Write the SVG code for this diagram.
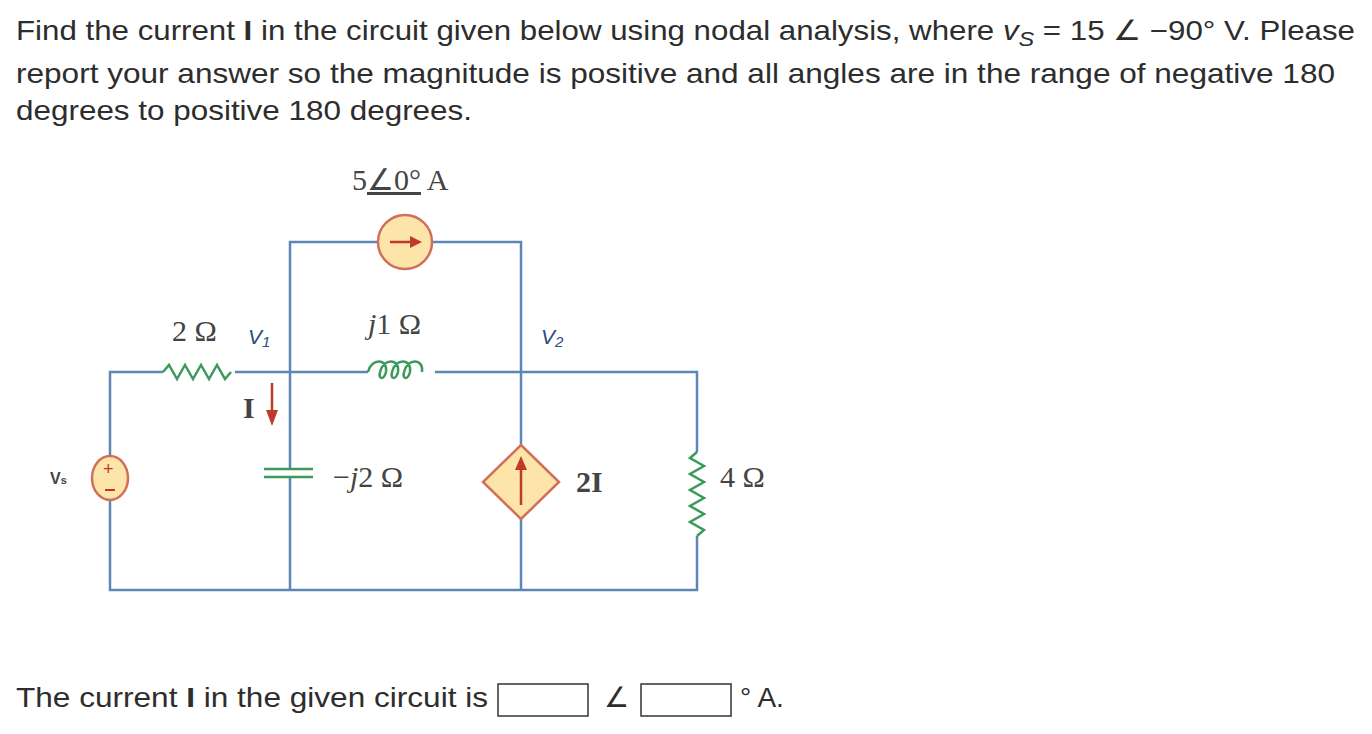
<svg xmlns="http://www.w3.org/2000/svg" width="1372" height="734" viewBox="0 0 1372 734">
<style>
.q{font-family:"Liberation Sans",Arial,sans-serif;font-size:28px;fill:#2d2d2d}
.s{font-family:"Liberation Serif","Times New Roman",serif;font-size:30px;fill:#444}
.w{stroke:#5b86b5;stroke-width:2.5;fill:none}
.g{stroke:#3a9a5a;stroke-width:2.5;fill:none}
.src{fill:#fde4a8;stroke:#d0705a;stroke-width:2.5}
.box{fill:#fff;stroke:#333;stroke-width:1.5}
</style>
<rect width="1372" height="734" fill="#fff"/>
<text class="q" x="16" y="40" textLength="1339" lengthAdjust="spacingAndGlyphs">Find the current <tspan font-weight="bold">I</tspan> in the circuit given below using nodal analysis, where <tspan font-style="italic">v<tspan font-size="21" dy="6">S</tspan></tspan><tspan dy="-6"> = 15 ∠ −90° V. Please</tspan></text>
<text class="q" x="16" y="83" textLength="1319" lengthAdjust="spacingAndGlyphs">report your answer so the magnitude is positive and all angles are in the range of negative 180</text>
<text class="q" x="16" y="120" textLength="456" lengthAdjust="spacingAndGlyphs">degrees to positive 180 degrees.</text>
<g id="connectors">
<path class="w" d="M110,456 V372 H163 M235,372 H368 M435,372 H697 V452 M697,536 V590 H110 V500"/>
<path class="w" d="M290,590 V477 M290,469 V242 H378 M432,242 H521 V445 M521,519 V590"/>
<line x1="272" y1="383" x2="272" y2="412" stroke="#c0392b" stroke-width="2.5"/>
<path d="M266,410 L278,410 L272,426Z" fill="#c0392b"/>
</g>
<g id="R2"><path class="g" d="M163,372 l6,-7 l8,14 l8,-14 l8,14 l8,-14 l8,14 l8,-14 l8,14 l6,-7"/><text class="s" x="172" y="341">2 Ω</text></g>
<g id="V1"><text x="248" y="344" font-family="Liberation Sans,sans-serif" font-size="21" font-style="italic" fill="#2d4a7a">V<tspan font-size="15" dy="3">1</tspan></text></g>
<g id="L"><path class="g" d="M368,372 c3,-14 20,-14 18,0 c-2,8 -8,8 -6,0 c3,-14 20,-14 18,0 c-2,8 -8,8 -6,0 c3,-14 20,-14 18,0 c-2,8 -8,8 -6,0 c3,-14 20,-14 18,0"/><text class="s" x="368" y="334"><tspan font-style="italic">j</tspan>1 Ω</text></g>
<g id="V2"><text x="541" y="344" font-family="Liberation Sans,sans-serif" font-size="21" font-style="italic" fill="#2d4a7a">V<tspan font-size="15" dy="3">2</tspan></text></g>
<g id="Isrc"><circle class="src" cx="405" cy="242" r="27"/><line x1="390" y1="242" x2="412" y2="242" stroke="#c0392b" stroke-width="2.5"/><path d="M410,236 L422,242 L410,248Z" fill="#c0392b"/><text class="s" x="352" y="190">5<tspan text-decoration="underline">∠0°</tspan> A</text></g>
<g id="Vs"><ellipse class="src" cx="110" cy="478" rx="18" ry="22"/><text x="103" y="475" font-family="Liberation Sans,sans-serif" font-size="18" fill="#c0392b">+</text><line x1="105" y1="490" x2="115" y2="490" stroke="#c0392b" stroke-width="2"/><text x="50" y="484" font-family="Liberation Sans,sans-serif" font-size="16" font-weight="bold" fill="#444">V<tspan font-size="11">s</tspan></text></g>
<g id="C"><line class="g" x1="264" y1="469" x2="313" y2="469"/><line class="g" x1="264" y1="477" x2="313" y2="477"/><text class="s" x="333" y="487">−<tspan font-style="italic">j</tspan>2 Ω</text></g>
<g id="I"><text class="s" x="243" y="418" font-weight="bold" fill="#333">I</text></g>
<g id="dep"><path class="src" d="M521,445 L559,482 L521,519 L483,482Z"/><line x1="521" y1="505" x2="521" y2="468" stroke="#c0392b" stroke-width="2.5"/><path d="M515,470 L521,456 L527,470Z" fill="#c0392b"/><text class="s" x="576" y="492" font-weight="bold" fill="#333">2I</text></g>
<g id="R4"><path class="g" d="M697,452 l-7,6 l14,8 l-14,8 l14,8 l-14,8 l14,8 l-14,8 l14,8 l-14,8 l14,8 l-7,6"/><text class="s" x="720" y="487">4 Ω</text></g>
<text class="q" x="16" y="707" textLength="472" lengthAdjust="spacingAndGlyphs">The current <tspan font-weight="bold">I</tspan> in the given circuit is</text>
<rect class="box" x="498" y="684" width="90" height="32"/>
<text class="q" x="604" y="707" font-size="24">∠</text>
<rect class="box" x="641" y="684" width="90" height="32"/>
<text class="q" x="740" y="707">° A.</text>
</svg>
